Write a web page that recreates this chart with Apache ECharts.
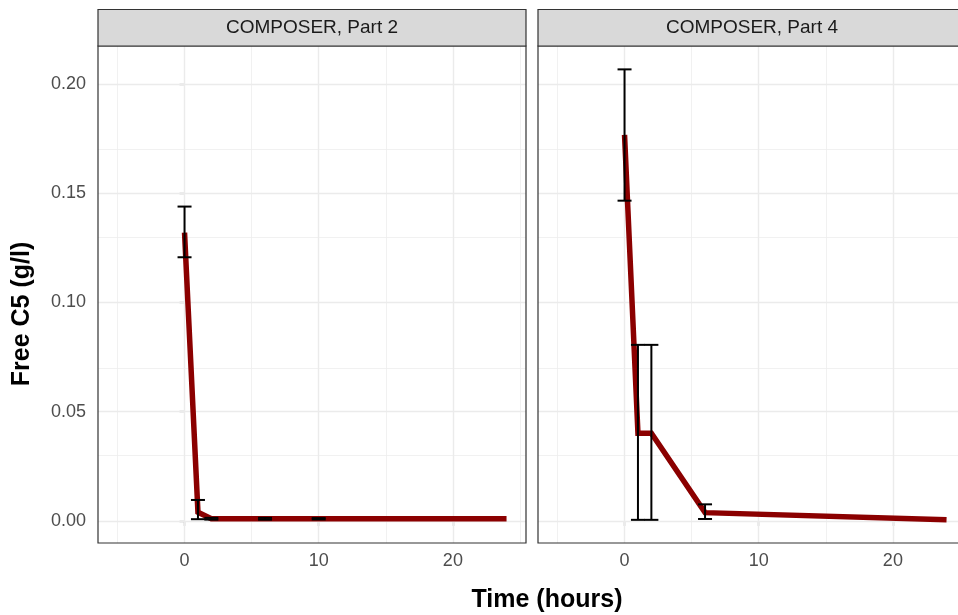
<!DOCTYPE html>
<html>
<head>
<meta charset="utf-8">
<script src="https://cdn.jsdelivr.net/npm/echarts@6/dist/echarts.min.js"></script>
<style>
html, body { margin: 0; padding: 0; background: #fff; }
#main { width: 958px; height: 615px; }
</style>
</head>
<body>
<div id="main"></div>
<script>
// facet labels
const panelTitles = ['COMPOSER, Part 2', 'COMPOSER, Part 4']

// Part 2: time (h), mean, error bar low / high
const p2Time = [0, 1, 2, 6, 10, 24]
const p2Mean = [0.132, 0.004, 0.001, 0.001, 0.001, 0.001]
const p2Lo = [0.1207, 0.0008, 0.0006, 0.0006, 0.0007, null]
const p2Hi = [0.1439, 0.0096, 0.0014, 0.0014, 0.0013, null]

// Part 4
const p4Time = [0, 1, 2, 6, 24]
const p4Mean = [0.1767, 0.0401, 0.0401, 0.0038, 0.0005]
const p4Lo = [0.1466, 0.0005, 0.0005, 0.0009, null]
const p4Hi = [0.2067, 0.0806, 0.0806, 0.0076, null]

// axis breaks
const xTicks = [0, 10, 20]
const xMinor = [-5, 5, 15, 25]
const yTicks = [0, 0.05, 0.1, 0.15, 0.2]
const yMinor = [0.025, 0.075, 0.125, 0.175]

const font = 'Liberation Sans, Arial, sans-serif'
const xMin = -6.45
const xMax = 25.45
// right facet is cut off by the picture edge (panel would end at x=966)
const xMaxCut = -6.45 + 31.9 * 420 / 428
const yMin = -0.0101
const yMax = 0.2174

var chart = echarts.init(document.getElementById('main'))

function errorBarItem(params, api) {
  const x = api.value(0)
  const lo = api.coord([x, api.value(1)])
  const hi = api.coord([x, api.value(2)])
  const w = 7
  const style = { stroke: '#000', lineWidth: 2 }
  return {
    type: 'group',
    children: [
      { type: 'line', shape: { x1: lo[0], y1: lo[1], x2: hi[0], y2: hi[1] }, style: style },
      { type: 'line', shape: { x1: lo[0] - w, y1: lo[1], x2: lo[0] + w, y2: lo[1] }, style: style },
      { type: 'line', shape: { x1: hi[0] - w, y1: hi[1], x2: hi[0] + w, y2: hi[1] }, style: style }
    ]
  }
}

function gridLines() {
  const major = { color: '#ebebeb', width: 1.4, type: 'solid' }
  const minor = { color: '#eeeeee', width: 0.8, type: 'solid' }
  let d = []
  xMinor.forEach(v => d.push({ xAxis: v, lineStyle: minor }))
  yMinor.forEach(v => d.push({ yAxis: v, lineStyle: minor }))
  xTicks.forEach(v => d.push({ xAxis: v, lineStyle: major }))
  yTicks.forEach(v => d.push({ yAxis: v, lineStyle: major }))
  return d
}

const panels = [
  { time: p2Time, mean: p2Mean, lo: p2Lo, hi: p2Hi },
  { time: p4Time, mean: p4Mean, lo: p4Lo, hi: p4Hi }
]

let series = []
panels.forEach((p, i) => {
  series.push({
    type: 'line',
    xAxisIndex: i,
    yAxisIndex: i,
    data: [],
    z: 1,
    silent: true,
    markLine: {
      z: 1,
      silent: true,
      symbol: ['none', 'none'],
      label: { show: false },
      animation: false,
      data: gridLines()
    }
  })
  series.push({
    type: 'line',
    xAxisIndex: i,
    yAxisIndex: i,
    data: p.time.map((t, k) => [t, p.mean[k]]),
    symbol: 'none',
    lineStyle: { color: '#8b0000', width: 5.5, join: 'miter' },
    z: 10
  })
  let bars = []
  p.time.forEach((t, k) => {
    if (p.lo[k] != null) bars.push([t, p.lo[k], p.hi[k]])
  })
  series.push({
    type: 'custom',
    xAxisIndex: i,
    yAxisIndex: i,
    renderItem: errorBarItem,
    encode: { x: 0, y: [1, 2] },
    data: bars,
    z: 11
  })
})

const option = {
  animation: false,
  grid: [
    { left: 98, top: 46, bottom: 72, width: 428, show: false },
    { left: 538, top: 46, bottom: 72, right: 0, show: false }
  ],
  xAxis: [0, 1].map(i => ({
    type: 'value',
    gridIndex: i,
    min: xMin,
    max: i === 0 ? xMax : xMaxCut,
    splitLine: { show: false },
    axisLine: { show: false },
    axisTick: { show: true, customValues: xTicks, length: 5, lineStyle: { color: '#333', width: 1.2 } },
    axisLabel: { customValues: xTicks, margin: 9, color: '#4d4d4d', fontSize: 18, fontFamily: font }
  })),
  yAxis: [0, 1].map(i => ({
    type: 'value',
    gridIndex: i,
    min: yMin,
    max: yMax,
    splitLine: { show: false },
    axisLine: { show: false },
    axisTick: { show: i === 0, customValues: yTicks, length: 5, lineStyle: { color: '#333', width: 1.2 } },
    axisLabel: {
      show: i === 0,
      customValues: yTicks,
      margin: 12,
      color: '#4d4d4d',
      fontSize: 18,
      fontFamily: font,
      formatter: v => v.toFixed(2)
    }
  })),
  graphic: [
    { type: 'rect', z: 20, shape: { x: 98, y: 46, width: 428, height: 497 }, style: { fill: 'none', stroke: '#333', lineWidth: 1.2 } },
    { type: 'rect', z: 20, shape: { x: 538, y: 46, width: 428, height: 497 }, style: { fill: 'none', stroke: '#333', lineWidth: 1.2 } },
    { type: 'rect', z: 20, shape: { x: 98, y: 9.5, width: 428, height: 36.5 }, style: { fill: '#d9d9d9', stroke: '#333', lineWidth: 1.2 } },
    { type: 'rect', z: 20, shape: { x: 538, y: 9.5, width: 428, height: 36.5 }, style: { fill: '#d9d9d9', stroke: '#333', lineWidth: 1.2 } },
    { type: 'text', z: 21, x: 312, y: 28, style: { text: panelTitles[0], fill: '#1a1a1a', font: '19px ' + font, textAlign: 'center', textVerticalAlign: 'middle' } },
    { type: 'text', z: 21, x: 752, y: 28, style: { text: panelTitles[1], fill: '#1a1a1a', font: '19px ' + font, textAlign: 'center', textVerticalAlign: 'middle' } },
    { type: 'text', x: 547, y: 600, style: { text: 'Time (hours)', fill: '#000', font: 'bold 25px ' + font, textAlign: 'center', textVerticalAlign: 'middle' } },
    { type: 'text', x: 22, y: 314, rotation: Math.PI / 2, style: { text: 'Free C5 (g/l)', fill: '#000', font: 'bold 25px ' + font, textAlign: 'center', textVerticalAlign: 'middle' } }
  ],
  series: series
}

option && chart.setOption(option)
</script>
</body>
</html>
